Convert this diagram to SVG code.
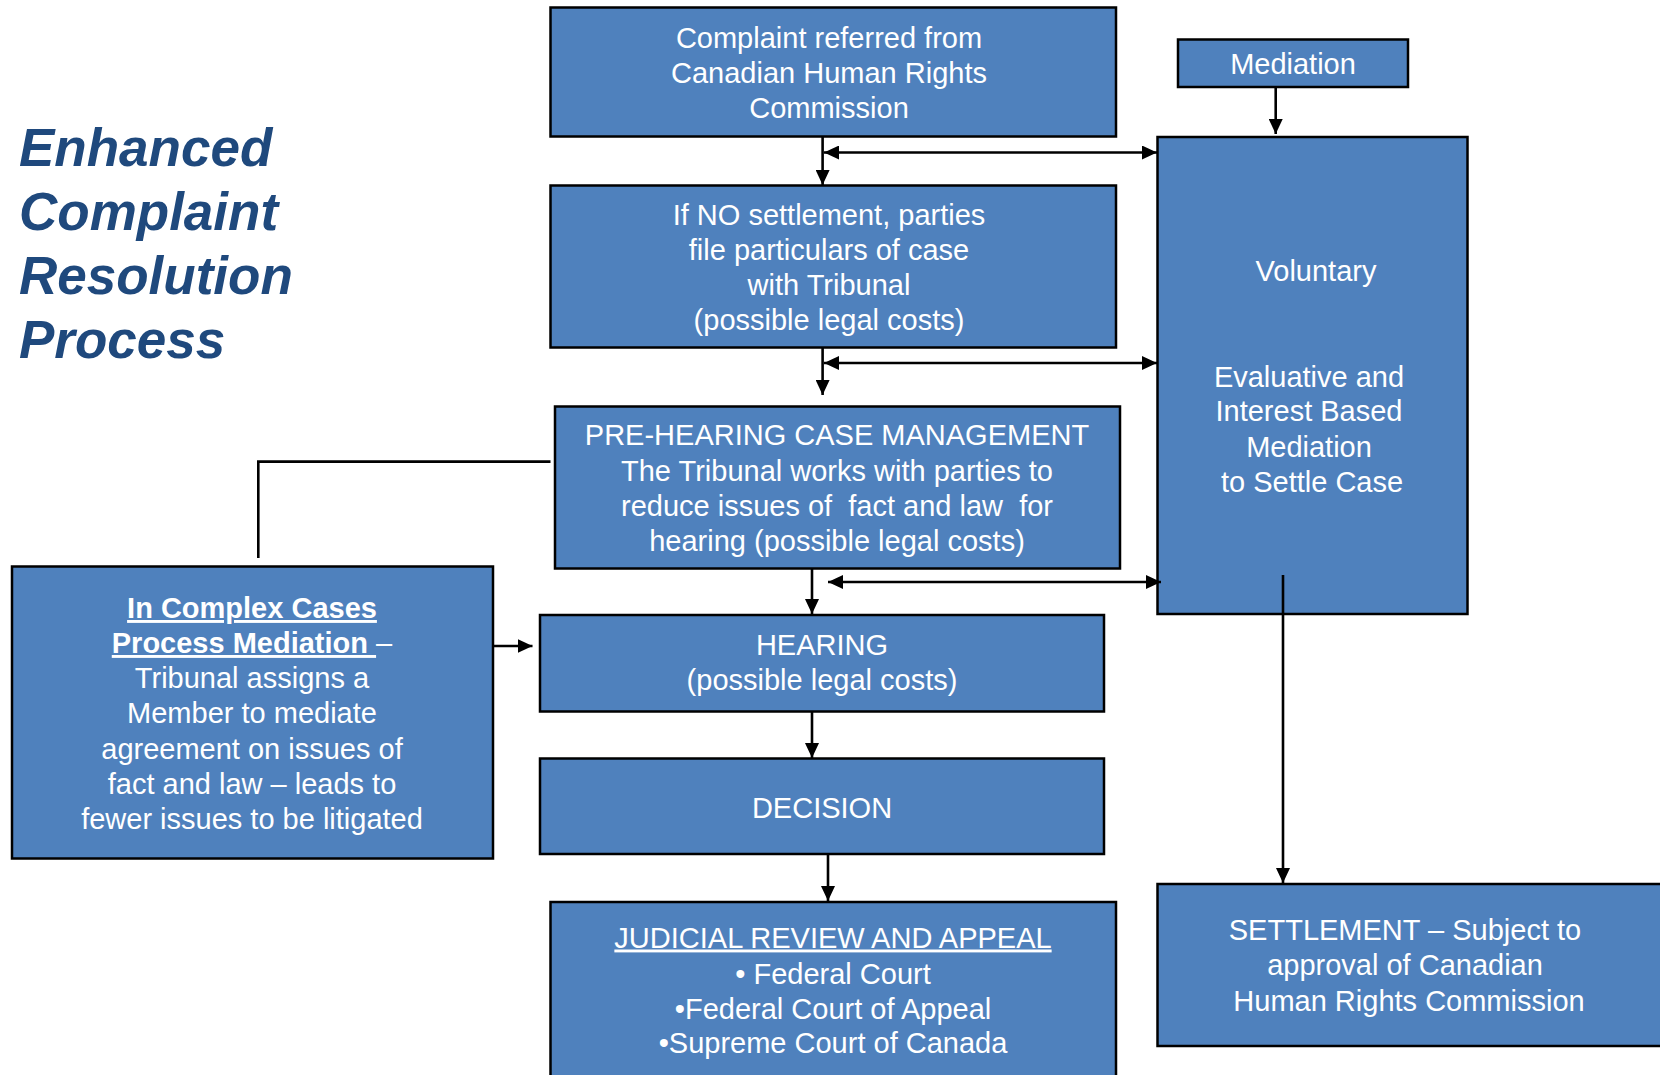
<svg xmlns="http://www.w3.org/2000/svg" width="1660" height="1075" viewBox="0 0 1660 1075">
<defs>
<marker id="ah" markerUnits="userSpaceOnUse" markerWidth="15" markerHeight="14" refX="15" refY="7" orient="auto-start-reverse" viewBox="0 0 15 14">
<path d="M0,0 L15,7 L0,14 z" fill="#000"/>
</marker>
<style>
.box{fill:#4F81BD;stroke:#000;stroke-width:2.5}
.t{font-family:"Liberation Sans",Arial,sans-serif;font-size:29px;fill:#fff;text-anchor:middle}
.b{font-weight:bold}
.title{font-family:"Liberation Sans",Arial,sans-serif;font-size:53px;font-weight:bold;font-style:italic;fill:#1F497D}
.c{fill:none;stroke:#000;stroke-width:2.6}
.a{marker-end:url(#ah)}
.d{marker-start:url(#ah);marker-end:url(#ah)}
</style>
</defs>
<rect width="1660" height="1075" fill="#fff"/>
<g id="title">
<text class="title" x="19" y="166">Enhanced</text>
<text class="title" x="19" y="230">Complaint</text>
<text class="title" x="19" y="294">Resolution</text>
<text class="title" x="19" y="358">Process</text>
</g>
<g id="n-complaint">
<rect class="box" x="550.5" y="7.5" width="565.5" height="129"/>
<text class="t" x="829" y="48">Complaint referred from</text>
<text class="t" x="829" y="83">Canadian Human Rights</text>
<text class="t" x="829" y="118">Commission</text>
</g>
<g id="n-particulars">
<rect class="box" x="550.5" y="185.5" width="565.5" height="162"/>
<text class="t" x="829" y="224.5">If NO settlement, parties</text>
<text class="t" x="829" y="259.5">file particulars of case</text>
<text class="t" x="829" y="295">with Tribunal</text>
<text class="t" x="829" y="330">(possible legal costs)</text>
</g>
<g id="n-prehearing">
<rect class="box" x="555" y="406.5" width="565" height="162"/>
<text class="t" x="837" y="444.5">PRE-HEARING CASE MANAGEMENT</text>
<text class="t" x="837" y="480.5">The Tribunal works with parties to</text>
<text class="t" x="837" y="515.5" xml:space="preserve">reduce issues of  fact and law  for</text>
<text class="t" x="837" y="550.5">hearing (possible legal costs)</text>
</g>
<g id="n-hearing">
<rect class="box" x="540" y="615" width="564" height="96.5"/>
<text class="t" x="822" y="655">HEARING</text>
<text class="t" x="822" y="690">(possible legal costs)</text>
</g>
<g id="n-decision">
<rect class="box" x="540" y="758.5" width="564" height="95.5"/>
<text class="t" x="822" y="818">DECISION</text>
</g>
<g id="n-judicial">
<rect class="box" x="550.5" y="902" width="565.5" height="190"/>
<text class="t" x="833" y="947.5" text-decoration="underline">JUDICIAL REVIEW AND APPEAL</text>
<text class="t" x="833" y="983.5">• Federal Court</text>
<text class="t" x="833" y="1018.5">•Federal Court of Appeal</text>
<text class="t" x="833" y="1053">•Supreme Court of Canada</text>
</g>
<g id="n-mediation">
<rect class="box" x="1178" y="39.5" width="230" height="47.5"/>
<text class="t" x="1293" y="74">Mediation</text>
</g>
<g id="n-voluntary">
<rect class="box" x="1157.5" y="137" width="310" height="477"/>
<text class="t" x="1316" y="280.5">Voluntary</text>
<text class="t" x="1309" y="386.5">Evaluative and</text>
<text class="t" x="1309" y="421">Interest Based</text>
<text class="t" x="1309" y="457">Mediation</text>
<text class="t" x="1312" y="492">to Settle Case</text>
</g>
<g id="n-settlement">
<rect class="box" x="1157.5" y="884" width="510" height="162"/>
<text class="t" x="1405" y="940">SETTLEMENT – Subject to</text>
<text class="t" x="1405" y="975">approval of Canadian</text>
<text class="t" x="1409" y="1011">Human Rights Commission</text>
</g>
<g id="n-complex">
<rect class="box" x="12" y="566.5" width="481" height="292"/>
<text class="t b" x="252" y="618" text-decoration="underline">In Complex Cases</text>
<text class="t" x="252" y="653"><tspan class="b" text-decoration="underline">Process Mediation </tspan>–</text>
<text class="t" x="252" y="688">Tribunal assigns a</text>
<text class="t" x="252" y="723">Member to mediate</text>
<text class="t" x="252" y="759">agreement on issues of</text>
<text class="t" x="252" y="794">fact and law – leads to</text>
<text class="t" x="252" y="829">fewer issues to be litigated</text>
</g>
<g id="connectors">
<line class="c a" x1="822.6" y1="137" x2="822.6" y2="185"/>
<line class="c d" x1="824" y1="152.5" x2="1157" y2="152.5"/>
<line class="c a" x1="822.6" y1="347" x2="822.6" y2="395"/>
<line class="c d" x1="824" y1="363" x2="1157" y2="363"/>
<line class="c a" x1="812" y1="568.5" x2="812" y2="614"/>
<line class="c d" x1="828" y1="582" x2="1161" y2="582"/>
<line class="c a" x1="812" y1="711.5" x2="812" y2="758"/>
<line class="c a" x1="828" y1="854" x2="828" y2="901"/>
<line class="c a" x1="493" y1="646" x2="532.5" y2="646"/>
<polyline class="c" points="550.5,461.6 258.3,461.6 258.3,558"/>
<line class="c a" x1="1275.7" y1="87" x2="1275.7" y2="134"/>
<line class="c a" x1="1283" y1="575" x2="1283" y2="883"/>
</g>
</svg>
